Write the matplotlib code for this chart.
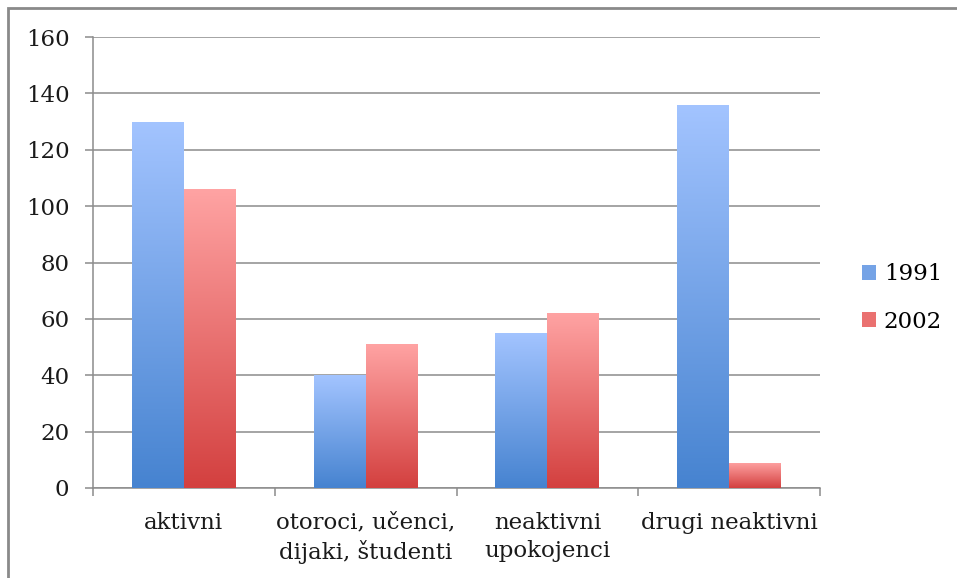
import matplotlib.pyplot as plt
from matplotlib.colors import LinearSegmentedColormap
from matplotlib.patches import Patch, Rectangle
import numpy as np

categories = ['aktivni', 'otoroci, učenci,\ndijaki, študenti',
              'neaktivni\nupokojenci', 'drugi neaktivni']
series = ['1991', '2002']
values_1991 = [130, 40, 55, 136]
values_2002 = [106, 51, 62, 9]

# gradient ends (top, bottom) per series
grads = {'1991': ('#a3c4ff', '#4683d0'),
         '2002': ('#ffa3a3', '#d3403f')}

plt.rcParams['font.family'] = 'DejaVu Serif'
fs = 16.5

fig = plt.figure(figsize=(9.57, 5.78), dpi=100)
# outer chart border (top and left only visible)
fig.add_artist(Rectangle((8/957, -0.1), 1.2, (578 - 8)/578 + 0.1,
                         transform=fig.transFigure, fill=False,
                         edgecolor='#8a8a8a', linewidth=2))

ax = fig.add_axes([93/957, 90/578, 727/957, 451/578])

x = np.arange(len(categories))
w = 1 / 3.5
grad = np.linspace(1, 0, 256).reshape(-1, 1)

for i, (name, vals) in enumerate(zip(series, [values_1991, values_2002])):
    bars = ax.bar(x + (i - 0.5) * w, vals, width=w, facecolor='none',
                  edgecolor='none', zorder=3)
    cmap = LinearSegmentedColormap.from_list(name, [grads[name][1], grads[name][0]])
    for b in bars:
        bx, by = b.get_x(), b.get_y()
        bw, bh = b.get_width(), b.get_height()
        im = ax.imshow(grad, extent=(bx, bx + bw, by, by + bh), cmap=cmap,
                       aspect='auto', origin='upper', zorder=3,
                       interpolation='bilinear', vmin=0, vmax=1)
        im.set_clip_path(b)

ax.set_xlim(-0.5, len(categories) - 0.5)
ax.set_ylim(0, 160)
ax.set_yticks(np.arange(0, 161, 20))
ax.grid(axis='y', color='#8c8c8c', linewidth=1.1, zorder=0)
ax.set_axisbelow(True)

for s in ['top', 'right']:
    ax.spines[s].set_visible(False)
for s in ['left', 'bottom']:
    ax.spines[s].set_color('#8c8c8c')
    ax.spines[s].set_linewidth(1.1)

ax.tick_params(axis='y', direction='out', length=6, width=1.1,
               color='#8c8c8c', pad=11, labelsize=fs, labelcolor='#1a1a1a')
ax.set_xticks(x)
ax.set_xticklabels(categories, fontsize=fs, color='#1a1a1a', linespacing=1.35)
ax.tick_params(axis='x', which='major', length=0, pad=17)
ax.set_xticks(np.arange(-0.5, len(categories), 1), minor=True)
ax.tick_params(axis='x', which='minor', direction='out', length=6, width=1.1,
               color='#8c8c8c')

handles = [Patch(facecolor='#75a3e6', edgecolor='none'),
           Patch(facecolor='#ea7170', edgecolor='none')]
fig.legend(handles, series, loc='center left', bbox_to_anchor=(862/957, 1 - 298/578),
           frameon=False, fontsize=fs, handlelength=0.6, handleheight=0.6,
           handletextpad=0.35, labelspacing=1.1, borderpad=0, borderaxespad=0)

fig.savefig('out.png', dpi=100)
